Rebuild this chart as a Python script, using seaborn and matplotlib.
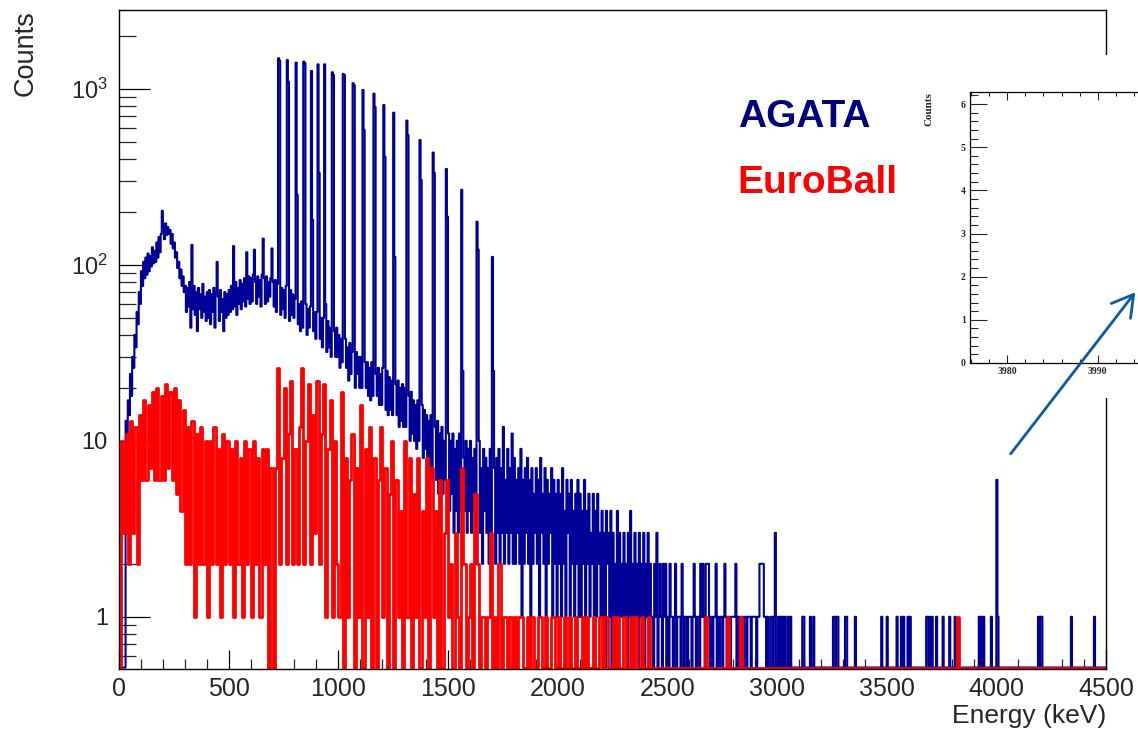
import numpy as np
import pandas as pd
import matplotlib
matplotlib.use("Agg")
import matplotlib.pyplot as plt
import seaborn as sns
from matplotlib.patches import Rectangle, FancyArrowPatch
from matplotlib.ticker import FixedLocator, MultipleLocator, LogLocator, NullFormatter

e_max = 4500

# AGATA: counts per 5 keV bin (one row = 100 keV)
agata_bin = 5
agata_0_1000 = [
    0, 0, 0, 0, 0, 0, 13, 10, 17, 14, 24, 18, 30, 26, 40, 34, 54, 46, 70, 60,
    92, 76, 104, 84, 110, 88, 116, 92, 112, 98, 126, 102, 120, 104, 134, 110, 144, 118, 150, 124,
    166, 140, 172, 148, 164, 150, 158, 132, 150, 124, 134, 110, 118, 96, 104, 84, 94, 76, 86, 70,
    76, 54, 74, 58, 80, 44, 72, 56, 76, 52, 70, 42, 74, 56, 68, 50, 78, 54, 66, 48,
    70, 50, 72, 46, 68, 54, 74, 44, 70, 52, 66, 48, 72, 54, 64, 42, 70, 50, 68, 52,
    72, 54, 76, 56, 70, 58, 80, 52, 74, 60, 82, 56, 78, 62, 84, 58, 80, 64, 86, 60,
    84, 62, 88, 64, 80, 60, 86, 66, 82, 58, 88, 64, 84, 60, 86, 62, 80, 66, 84, 60,
    80, 58, 82, 54, 78, 60, 76, 52, 74, 56, 72, 50, 76, 54, 70, 48, 72, 52, 68, 50,
    64, 44, 62, 46, 60, 42, 62, 44, 58, 42, 60, 40, 56, 44, 58, 40, 56, 42, 54, 38,
    54, 36, 52, 38, 50, 34, 50, 36, 46, 32, 48, 34, 44, 30, 46, 32, 42, 30, 44, 30,
]
agata_1000_2000 = [
    40, 26, 38, 28, 36, 24, 38, 26, 34, 22, 36, 24, 32, 22, 34, 20, 32, 24, 30, 20,
    30, 20, 30, 18, 28, 20, 28, 18, 26, 17, 28, 18, 26, 16, 24, 18, 26, 16, 24, 16,
    26, 16, 24, 15, 25, 14, 23, 15, 22, 14, 23, 13, 21, 14, 22, 12, 20, 13, 21, 12,
    20, 12, 19, 11, 18, 10, 19, 11, 17, 10, 16, 9, 17, 10, 15, 9, 16, 8, 15, 9,
    14, 8, 13, 7, 14, 6, 12, 7, 12, 6, 13, 5, 11, 6, 12, 5, 10, 6, 11, 5,
    11, 4, 10, 5, 11, 3, 9, 4, 10, 3, 11, 4, 9, 3, 8, 4, 10, 3, 9, 4,
    10, 3, 8, 4, 9, 2, 8, 3, 10, 3, 7, 2, 9, 4, 8, 3, 7, 2, 9, 3,
    9, 3, 7, 2, 8, 3, 9, 2, 7, 3, 8, 2, 6, 3, 9, 2, 7, 3, 6, 2,
    8, 2, 6, 3, 7, 2, 9, 1, 6, 2, 7, 3, 8, 2, 6, 1, 7, 2, 5, 3,
    7, 2, 6, 1, 8, 3, 5, 2, 7, 1, 6, 2, 5, 3, 7, 1, 6, 2, 5, 1,
]
agata_2000_3000 = [
    6, 2, 5, 1, 7, 2, 4, 1, 6, 3, 5, 1, 6, 2, 4, 1, 5, 2, 6, 1,
    5, 1, 4, 2, 6, 1, 4, 2, 5, 1, 3, 2, 5, 1, 4, 1, 5, 2, 3, 1,
    4, 1, 3, 0, 4, 2, 3, 1, 4, 0, 3, 1, 2, 1, 4, 0, 3, 1, 2, 1,
    3, 1, 2, 0, 3, 1, 4, 1, 2, 0, 3, 1, 2, 0, 3, 1, 2, 1, 3, 0,
    2, 1, 3, 0, 2, 1, 1, 0, 2, 1, 3, 0, 1, 2, 1, 0, 2, 1, 2, 0,
    1, 0, 2, 1, 1, 0, 1, 2, 0, 1, 1, 1, 0, 2, 1, 0, 1, 1, 0, 1,
    1, 1, 0, 1, 2, 1, 0, 1, 1, 0, 2, 1, 2, 1, 0, 2, 2, 2, 1, 0,
    1, 0, 1, 1, 2, 0, 1, 0, 1, 1, 0, 1, 2, 1, 0, 1, 1, 0, 1, 1,
    1, 1, 2, 0, 1, 1, 0, 1, 1, 0, 1, 1, 0, 1, 1, 1, 0, 1, 1, 1,
    1, 0, 1, 1, 2, 2, 2, 2, 1, 1, 0, 1, 0, 0, 1, 1, 0, 1, 3, 0,
]

# AGATA isolated counts above 3000 keV
agata_sparse_energy = [3005, 3015, 3025, 3035, 3050, 3060, 3115, 3120, 3150, 3165,
                       3255, 3262, 3270, 3277, 3312, 3318, 3356, 3479, 3502, 3547,
                       3568, 3579, 3598, 3605, 3680, 3688, 3697, 3708, 3728, 3757,
                       3789, 3812, 3922, 3932, 3943, 3977, 4002, 4007, 4192, 4200,
                       4206, 4344, 4447]
agata_sparse_counts = [1, 1, 1, 1, 1, 1, 1, 1, 1, 1,
                       1, 1, 1, 1, 1, 1, 1, 1, 1, 1,
                       1, 1, 1, 1, 1, 1, 1, 1, 1, 1,
                       1, 1, 1, 1, 1, 1, 6, 1, 1, 1,
                       1, 1, 1]

# AGATA band lines: energy, peak height, height of the following bin
band_energy = [726, 767, 807, 843, 875, 906, 935, 974, 1023, 1068, 1111,
               1160, 1205, 1254, 1312, 1372, 1433, 1491, 1562, 1631, 1702]
band_height = [1494, 1460, 1411, 1430, 1265, 1380, 1380, 1244, 1217, 1078, 987,
               940, 811, 733, 661, 513, 435, 351, 267, 176, 111]
band_shoulder = [1450, 1100, 250, 1400, 180, 333, 60, 1200, 1200, 1050, 585,
                 790, 411, 111, 548, 304, 333, 188, 25, 122, 25]

# smaller AGATA lines on the continuum
line_energy = [195, 333, 445, 524, 582, 616, 657, 697, 1750, 1790]
line_height = [203, 130, 104, 128, 118, 122, 141, 124, 12, 11]

# EuroBall: counts per 10 keV bin from 0 to 2500 keV
euroball_bin = 10
euroball_continuum = [
    0, 10, 3, 11, 2, 13, 3, 12, 2, 14,
    6, 17, 6, 16, 7, 19, 6, 20, 6, 18,
    6, 21, 7, 19, 6, 20, 5, 17, 4, 15,
    2, 12, 2, 13, 1, 11, 2, 12, 2, 10,
    1, 10, 2, 12, 2, 9, 1, 11, 2, 10,
    2, 9, 1, 10, 2, 8, 1, 10, 2, 9,
    1, 10, 2, 8, 1, 9, 2, 9, 0, 7,
    0, 7, 26, 2, 8, 20, 2, 11, 22, 2,
    9, 2, 12, 26, 2, 10, 21, 2, 14, 3,
    22, 2, 11, 21, 1, 9, 17, 1, 10, 2,
    1, 19, 0, 8, 1, 6, 11, 0, 7, 1,
    16, 0, 9, 1, 12, 0, 8, 0, 6, 12,
    1, 7, 0, 5, 10, 0, 6, 1, 4, 0,
    10, 1, 8, 0, 5, 1, 8, 0, 4, 1,
    8, 0, 7, 1, 4, 0, 6, 0, 3, 6,
    1, 2, 0, 3, 1, 0, 7, 2, 0, 1,
    2, 0, 5, 2, 0, 1, 1, 0, 1, 3,
    0, 1, 0, 2, 0, 1, 1, 0, 1, 0,
    1, 0, 1, 1, 0, 0, 1, 0, 1, 0,
    0, 1, 1, 0, 1, 0, 0, 1, 1, 0,
    1, 0, 0, 1, 0, 1, 0, 0, 1, 0,
    0, 1, 0, 1, 0, 0, 1, 0, 0, 1,
    0, 1, 1, 0, 0, 1, 0, 1, 0, 0,
    1, 0, 0, 1, 0, 1, 0, 0, 1, 0,
    0, 1, 0, 0, 0, 0, 0, 0, 0, 0,
]
euroball_sparse_energy = [2670, 2770, 2830, 3820]
euroball_sparse_counts = [1, 1, 1, 1]

x_ticks = [0, 500, 1000, 1500, 2000, 2500, 3000, 3500, 4000, 4500]
y_ticks = [1, 10, 100, 1000]
y_tick_labels = ["1", "10", r"$\mathregular{10^{2}}$", r"$\mathregular{10^{3}}$"]
inset_x_ticks = [3980, 3990]
inset_y_ticks = [0, 1, 2, 3, 4, 5, 6]

agata_color = "#000099"
euroball_color = "#ff0000"
y_floor = 0.515


def build_hist(width, continuum, sparse_e=(), sparse_c=(), peak_e=(), peak_h=(), shoulder_h=()):
    counts = np.zeros(e_max // width)
    counts[:len(continuum)] = continuum
    for e, c in zip(sparse_e, sparse_c):
        counts[int(e // width)] = c
    for e, h in zip(peak_e, peak_h):
        i = int(e // width)
        counts[i] = max(counts[i], h)
    for e, s in zip(peak_e, shoulder_h):
        i = int(e // width) + 1
        counts[i] = max(counts[i], s)
    return counts


def step_frame(counts, width):
    edges = np.arange(0, e_max + width, width)
    y = np.append(counts, counts[-1]).astype(float)
    # empty bins sit on the bottom of the log axis, as ROOT draws them
    y = np.where(y > 0, y, y_floor)
    return pd.DataFrame({"energy": edges, "counts": y})


agata = build_hist(agata_bin, agata_0_1000 + agata_1000_2000 + agata_2000_3000,
                   agata_sparse_energy, agata_sparse_counts,
                   band_energy, band_height, band_shoulder)
agata = build_hist(agata_bin, agata, peak_e=line_energy, peak_h=line_height)
euroball = build_hist(euroball_bin, euroball_continuum,
                      euroball_sparse_energy, euroball_sparse_counts)

sns.set_theme(style="white")
plt.rcParams["font.family"] = ["Liberation Sans", "DejaVu Sans"]
plt.rcParams["mathtext.fontset"] = "custom"
plt.rcParams["mathtext.rm"] = "Liberation Sans"

fig = plt.figure(figsize=(11.38, 7.31), dpi=100)
ax = fig.add_axes([119 / 1138, 62 / 731, 987 / 1138, 659 / 731])
ax.set_yscale("log")

sns.lineplot(data=step_frame(agata, agata_bin), x="energy", y="counts",
             drawstyle="steps-post", estimator=None, sort=False,
             color=agata_color, linewidth=1.5, ax=ax)
sns.lineplot(data=step_frame(euroball, euroball_bin), x="energy", y="counts",
             drawstyle="steps-post", estimator=None, sort=False,
             color=euroball_color, linewidth=2.0, ax=ax)

ax.set_xlim(0, 4500)
ax.set_ylim(0.505, 2810)
ax.set_xlabel("")
ax.set_ylabel("")
ax.set_xticks(x_ticks)
ax.set_xticklabels([str(t) for t in x_ticks])
ax.xaxis.set_minor_locator(MultipleLocator(100))
ax.yaxis.set_major_locator(FixedLocator(y_ticks))
ax.set_yticklabels(y_tick_labels)
ax.yaxis.set_minor_locator(LogLocator(base=10, subs=np.arange(2, 10)))
ax.yaxis.set_minor_formatter(NullFormatter())
ax.tick_params(axis="x", which="major", direction="in", length=14, width=0.9,
               labelsize=18, pad=6, color="black", bottom=True, top=False)
ax.tick_params(axis="x", which="minor", direction="in", length=7, width=0.9,
               bottom=True, top=False)
ax.tick_params(axis="y", which="major", direction="in", length=22, width=0.9,
               labelsize=17, pad=8, color="black", left=True, right=False)
ax.tick_params(axis="y", which="minor", direction="in", length=12, width=0.9,
               left=True, right=False)
for s in ax.spines.values():
    s.set_visible(True)
    s.set_color("black")
    s.set_linewidth(1.0)

ax.text(0.627, 0.8225, "AGATA", transform=ax.transAxes, color="#000080",
        fontsize=28, fontweight="bold", ha="left", va="baseline")
ax.text(0.627, 0.7223, "EuroBall", transform=ax.transAxes, color=euroball_color,
        fontsize=28, fontweight="bold", ha="left", va="baseline")

fig.text(33 / 1138, 1 - 10 / 731, "Counts", rotation=90, rotation_mode="anchor",
         ha="right", va="baseline", fontsize=19.5)
fig.text(1106 / 1138, 1 - 723 / 731, "Energy (keV)", ha="right", va="baseline",
         fontsize=19)

# pasted zoom of the 4 MeV line, covering part of the frame
fig.add_artist(Rectangle((915 / 1138, 333 / 731), 223 / 1138, 343 / 731,
                         transform=fig.transFigure, facecolor="white",
                         edgecolor="none", zorder=5))
inset = fig.add_axes([970 / 1138, 368 / 731, 190 / 1138, 271 / 731], zorder=6)
inset.set_facecolor("none")
inset.set_xlim(3975.87, 3996.9)
inset.set_ylim(0, 6.28)
inset.set_xticks(inset_x_ticks)
inset.set_xticklabels([str(t) for t in inset_x_ticks])
inset.xaxis.set_minor_locator(MultipleLocator(2))
inset.set_yticks(inset_y_ticks)
inset.set_yticklabels([str(t) for t in inset_y_ticks])
inset.yaxis.set_minor_locator(MultipleLocator(0.2))
inset.tick_params(axis="x", which="major", direction="in", length=6, width=0.8,
                  top=True, bottom=True, pad=3)
inset.tick_params(axis="x", which="minor", direction="in", length=3, width=0.8,
                  top=True, bottom=True)
inset.tick_params(axis="y", which="major", direction="in", length=12, width=0.8,
                  left=True, right=False, pad=3)
inset.tick_params(axis="y", which="minor", direction="in", length=6, width=0.8,
                  left=True, right=False)
for lab in inset.get_xticklabels() + inset.get_yticklabels():
    lab.set_family(["Liberation Serif", "DejaVu Serif"])
    lab.set_fontweight("bold")
    lab.set_fontsize(7)
for name, s in inset.spines.items():
    s.set_color("black")
    s.set_linewidth(0.9)
    s.set_visible(name != "right")
fig.text(932 / 1138, 1 - 92 / 731, "Counts", rotation=90, rotation_mode="anchor",
         ha="right", va="baseline", fontsize=8, fontweight="bold",
         family=["Liberation Serif", "DejaVu Serif"], zorder=7)

fig.add_artist(FancyArrowPatch((1009 / 1138, 1 - 456 / 731), (1137 / 1138, 1 - 290 / 731),
                               transform=fig.transFigure,
                               arrowstyle="->,head_length=0.6,head_width=0.35",
                               mutation_scale=25, linewidth=2.0, color="#0b5aa2",
                               zorder=7))

fig.savefig("out.png", dpi=100)
